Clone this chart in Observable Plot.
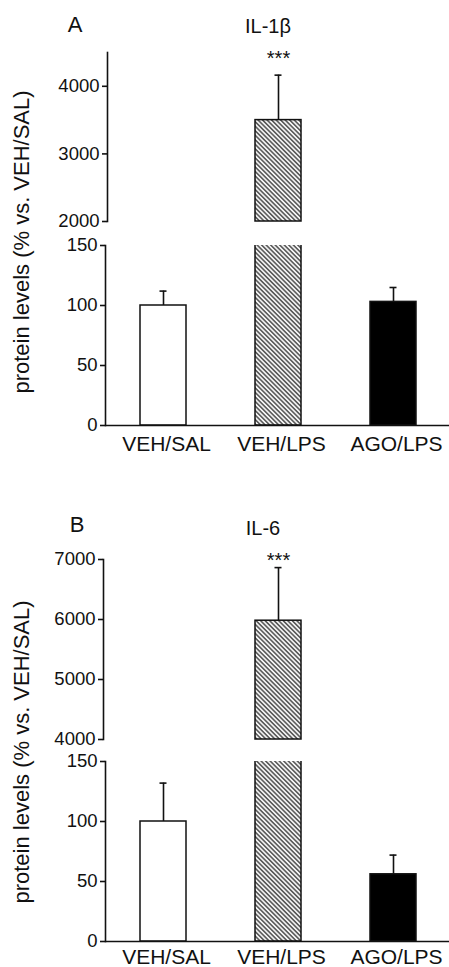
<!DOCTYPE html>
<html><head><meta charset="utf-8">
<script src="https://cdn.jsdelivr.net/npm/d3@7"></script>
<script src="https://cdn.jsdelivr.net/npm/@observablehq/plot@0.6"></script>
<style>
body{margin:0;background:#fff;}
#page{position:relative;width:449px;height:967px;overflow:hidden;font-family:"Liberation Sans",Arial,sans-serif;color:#111;}
#page > svg, #page > .seg{position:absolute;left:0;}
</style></head>
<body><div id="page"></div>
<script>
// ---- data ----
const groups = ["VEH/SAL", "VEH/LPS", "AGO/LPS"];
const il1bMean = [100, 3500, 103];
const il1bSem = [12, 665, 12];
const il6Mean = [100, 5980, 56];
const il6Sem = [32, 885, 16];
const il1bUpperDomain = [2000, 4500];
const il1bUpperTicks = [2000, 3000, 4000];
const il6UpperDomain = [4000, 7000];
const il6UpperTicks = [4000, 5000, 6000, 7000];
const lowerDomain = [0, 150];
const lowerTicks = [0, 50, 100, 150];
const fills = ["#ffffff", "url(#hatch)", "#000000"];
const sig = ["", "***", ""];
const panelLetters = ["A", "B"];
const panelTitles = ["IL-1β", "IL-6"];
const yTitle = "protein levels (% vs. VEH/SAL)";

const page = document.getElementById("page");
const NS = "http://www.w3.org/2000/svg";
const ink = "#111";
const font = "'Liberation Sans', Arial, sans-serif";

// hatch pattern shared by all svgs
const defsSvg = document.createElementNS(NS, "svg");
defsSvg.setAttribute("width", 0); defsSvg.setAttribute("height", 0);
defsSvg.style.position = "absolute";
defsSvg.innerHTML = `<defs><pattern id="hatch" patternUnits="userSpaceOnUse" width="3.2" height="3.2" patternTransform="rotate(45)">
<rect width="3.2" height="3.2" fill="#f2f2f2"/><line x1="0" y1="1.6" x2="3.2" y2="1.6" stroke="#333" stroke-width="1.25"/></pattern></defs>`;
page.appendChild(defsSvg);

function rows(means, sems) {
  return groups.map((g, i) => ({group: g, mean: means[i], sem: sems[i], fill: fills[i], sig: sig[i]}));
}

function segment(data, o) {
  const inDomain = data.filter(d => d.mean > o.domain[0]);
  const err = inDomain.filter(d => d.mean + d.sem <= o.domain[1]);
  const marks = [];
  if (o.lower) {
    marks.push(Plot.barY(data, {x: "group", y1: o.domain[0], y2: "mean", fill: "fill", stroke: ink, strokeWidth: 1.5, clip: true}));
  } else {
    marks.push(Plot.barY(inDomain, {x: "group", y1: o.domain[0], y2: "mean", fill: "fill", stroke: ink, strokeWidth: 1.5}));
  }
  marks.push(Plot.ruleX(err, {x: "group", y1: "mean", y2: d => d.mean + d.sem, stroke: ink, strokeWidth: 1.6}));
  marks.push(Plot.tickY(err, {x: "group", y: d => d.mean + d.sem, stroke: ink, strokeWidth: 1.6, insetLeft: 19.5, insetRight: 19.5}));
  marks.push(Plot.frame({anchor: "left", stroke: ink, strokeWidth: 1.6}));
  marks.push(Plot.axisY({ticks: o.ticks, tickSize: 5, tickPadding: 3, fontSize: 18.5, tickFormat: d => `${d}`, stroke: ink, strokeWidth: 1.6}));
  if (o.lower) {
    marks.push(Plot.ruleY([o.domain[0]], {stroke: ink, strokeWidth: 1.6}));
    marks.push(Plot.axisX({tickSize: 0, tickPadding: o.xPad, fontSize: 21, dx: 3}));
  } else {
    marks.push(Plot.text(data.filter(d => d.sig), {x: "group", text: "sig", frameAnchor: "top", dy: o.starDy, fontSize: 20}));
  }
  const svg = Plot.plot({
    width: 449, height: o.height,
    marginTop: o.mt, marginBottom: o.mb, marginLeft: o.left, marginRight: 0,
    x: {domain: groups, range: [105, 451], paddingInner: 0.6, paddingOuter: 0.3, label: null, axis: null},
    y: {domain: o.domain, label: null, axis: null},
    color: {type: "identity"},
    style: {fontFamily: font, color: "#111", background: "transparent", overflow: "visible"},
    marks
  });
  svg.classList.add("seg");
  svg.style.top = o.top + "px";
  page.appendChild(svg);
}

const a = rows(il1bMean, il1bSem);
const b = rows(il6Mean, il6Sem);
segment(a, {domain: il1bUpperDomain, ticks: il1bUpperTicks, top: 0, height: 230, mt: 52, mb: 9, left: 107, starDy: -2});
segment(a, {domain: lowerDomain, ticks: lowerTicks, top: 230, height: 230, mt: 15, mb: 35, left: 105, lower: true, xPad: 11});
segment(b, {domain: il6UpperDomain, ticks: il6UpperTicks, top: 480, height: 262, mt: 79, mb: 3, left: 103, starDy: -7});
segment(b, {domain: lowerDomain, ticks: lowerTicks, top: 742, height: 225, mt: 19, mb: 26, left: 105, lower: true, xPad: 8});

// titles, panel letters, y titles
const ov = document.createElementNS(NS, "svg");
ov.setAttribute("width", 449); ov.setAttribute("height", 967);
ov.style.top = "0px"; ov.style.pointerEvents = "none";
ov.setAttribute("font-family", font); ov.setAttribute("fill", "#111");
const texts = [
  {t: panelLetters[0], x: 75, y: 32, s: 22},
  {t: panelTitles[0], x: 268, y: 33, s: 20},
  {t: panelLetters[1], x: 77, y: 532, s: 22},
  {t: panelTitles[1], x: 263, y: 535, s: 20},
  {t: yTitle, x: 29, y: 242, s: 22, rot: true},
  {t: yTitle, x: 29, y: 752, s: 22, rot: true}
];
for (const d of texts) {
  const el = document.createElementNS(NS, "text");
  el.textContent = d.t;
  el.setAttribute("text-anchor", "middle");
  el.setAttribute("font-size", d.s);
  el.setAttribute("transform", `translate(${d.x},${d.y})` + (d.rot ? " rotate(-90)" : ""));
  ov.appendChild(el);
}
page.appendChild(ov);
</script>
</body></html>
